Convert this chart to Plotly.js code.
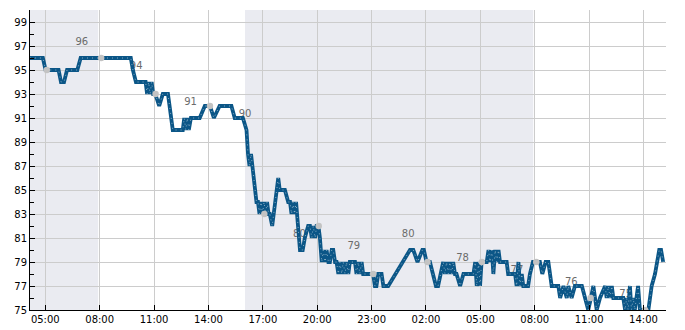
<!DOCTYPE html>
<html>
<head>
<meta charset="utf-8">
<script src="https://cdn.plot.ly/plotly-3.0.1.min.js"></script>
<style>html,body{margin:0;padding:0;background:#fff;}#chart{width:685px;height:330px;}</style>
</head>
<body>
<div id="chart"></div>
<script>
// Time is given as minutes after 05:00 on the first day
const BASE_UTC = Date.UTC(2024, 0, 10, 5, 0, 0);

const minutes = [-51,-8,1,44,52,62,72,106,117,283,290,300,332,337,342,347,352,357,364,377,389,406,422,455,460,465,470,475,482,511,528,545,558,577,616,627,654,666,671,676,681,685,690,694,699,704,709,714,719,724,729,734,739,743,751,771,776,793,804,810,815,820,825,830,833,843,852,859,870,876,882,887,893,898,904,909,915,920,926,931,937,942,948,953,959,964,970,975,981,986,992,997,1003,1008,1025,1030,1036,1041,1047,1052,1080,1085,1091,1096,1102,1113,1119,1130,1135,1207,1218,1232,1248,1253,1262,1273,1284,1293,1300,1309,1317,1323,1328,1334,1339,1345,1350,1356,1361,1373,1384,1417,1423,1428,1434,1439,1444,1461,1467,1472,1478,1483,1489,1494,1500,1505,1527,1532,1555,1560,1566,1571,1577,1582,1598,1604,1614,1621,1637,1645,1656,1665,1676,1687,1698,1704,1715,1726,1731,1742,1753,1776,1786,1797,1806,1814,1825,1836,1853,1858,1864,1869,1875,1880,1913,1919,1924,1929,1935,1940,1946,1951,1962,1968,1979,1996,2007,2018,2032,2038,2045];
const values = [96,96,95,95,94,94,95,95,96,96,95,94,94,93,94,93,94,93,93,92,93,93,90,90,91,90,91,90,91,91,92,92,91,92,92,91,91,90,88,87,88,87,86,85,84,84,83,84,83,84,83,84,83,83,82,86,85,85,84,84,83,84,83,84,83,80,80,81,82,82,81,82,81,82,82,81,79,80,79,80,79,79,80,80,79,79,78,79,78,79,78,79,78,79,79,78,79,78,79,78,78,78,77,77,78,78,77,77,77,80,80,79,80,80,79,79,78,77,77,78,79,78,79,78,79,78,79,78,78,77,78,78,79,77,79,77,79,79,80,79,80,78,80,79,80,79,79,78,78,77,79,77,78,77,77,78,79,79,79,78,79,79,77,77,77,76,77,76,77,76,77,77,76,75,76,77,75,76,77,76,77,76,77,76,76,75,76,75,77,75,76,75,77,75,75,75,77,78,80,80,79];

// grey reference points
const pointMinutes = [5,185,365,545,725,905,1085,1265,1445,1625,1805,1985];
const pointValues = [95,96,93,92,83,82,78,79,79,79,76,75];

// value labels
const labelMinutes = [121,301,481,661,841,1021,1201,1381,1561,1741,1921];
const labelValues = [96,94,91,90,80,79,80,78,77,76,75];

// shaded (night) periods
const shadeStart = [-51, 661];
const shadeEnd = [175, 1615];

// axis range and ticks
const xRangeMinutes = [-50.6, 2054.4];
const yRange = [75, 100];
const tickStartMinute = 0;
const tickStepHours = 3;

function toDate(m) {
  const d = new Date(BASE_UTC + m * 60000);
  const p = n => String(n).padStart(2, '0');
  return d.getUTCFullYear() + '-' + p(d.getUTCMonth() + 1) + '-' + p(d.getUTCDate()) + ' ' +
    p(d.getUTCHours()) + ':' + p(d.getUTCMinutes()) + ':' + p(d.getUTCSeconds());
}

const xs = minutes.map(toDate);
const LABEL_OFFSET = 16 / 12; // about 16 px above the value

const traces = [
  {
    x: labelMinutes.map(toDate),
    y: labelValues.map(v => v + LABEL_OFFSET),
    text: labelValues.map(String),
    mode: 'text',
    textposition: 'middle center',
    textfont: {family: 'DejaVu Sans', size: 10, color: '#6b6b6b'},
    hoverinfo: 'skip',
    showlegend: false
  },
  {
    x: xs, y: values,
    mode: 'lines',
    line: {color: '#0b5687', width: 3.8},
    hoverinfo: 'skip',
    showlegend: false
  },
  {
    x: xs, y: values,
    mode: 'lines',
    line: {color: 'rgba(255,255,255,0.5)', width: 1, dash: '1px,4px'},
    hoverinfo: 'skip',
    showlegend: false
  },
  {
    x: pointMinutes.map(toDate),
    y: pointValues,
    mode: 'markers',
    marker: {color: '#c3c3c3', size: 6.5},
    hoverinfo: 'skip',
    showlegend: false
  }
];

const shapes = shadeStart.map((s, i) => ({
  type: 'rect', xref: 'x', yref: 'paper',
  x0: toDate(s), x1: toDate(shadeEnd[i]), y0: 0, y1: 1,
  fillcolor: '#eaebf1', line: {width: 0}, layer: 'below'
}));

const layout = {
  width: 685, height: 330,
  margin: {l: 30, r: 19, t: 10, b: 20},
  paper_bgcolor: '#ffffff',
  plot_bgcolor: '#ffffff',
  font: {family: 'DejaVu Sans', size: 10, color: '#000000'},
  showlegend: false,
  shapes: shapes,
  xaxis: {
    type: 'date',
    range: xRangeMinutes.map(toDate),
    tick0: toDate(tickStartMinute),
    dtick: tickStepHours * 3600000,
    tickformat: '%H:%M',
    ticks: 'inside', ticklen: 5, tickwidth: 1, tickcolor: '#000000',
    showline: true, linecolor: '#000000', linewidth: 1.3,
    showgrid: true, gridcolor: '#cccccc', gridwidth: 1,
    zeroline: false,
    tickfont: {family: 'DejaVu Sans', size: 10, color: '#000000'}
  },
  yaxis: {
    range: yRange,
    tick0: 75, dtick: 2,
    ticks: 'inside', ticklen: 5, tickwidth: 1, tickcolor: '#000000',
    minor: {tick0: 76, dtick: 2, ticks: 'inside', ticklen: 4, tickwidth: 1, tickcolor: '#000000', showgrid: false},
    showline: true, linecolor: '#000000', linewidth: 1,
    showgrid: true, gridcolor: '#cccccc', gridwidth: 1,
    zeroline: false,
    tickfont: {family: 'DejaVu Sans', size: 10, color: '#000000'}
  }
};

Plotly.newPlot('chart', traces, layout, {displayModeBar: false, staticPlot: true});
</script>
</body>
</html>
